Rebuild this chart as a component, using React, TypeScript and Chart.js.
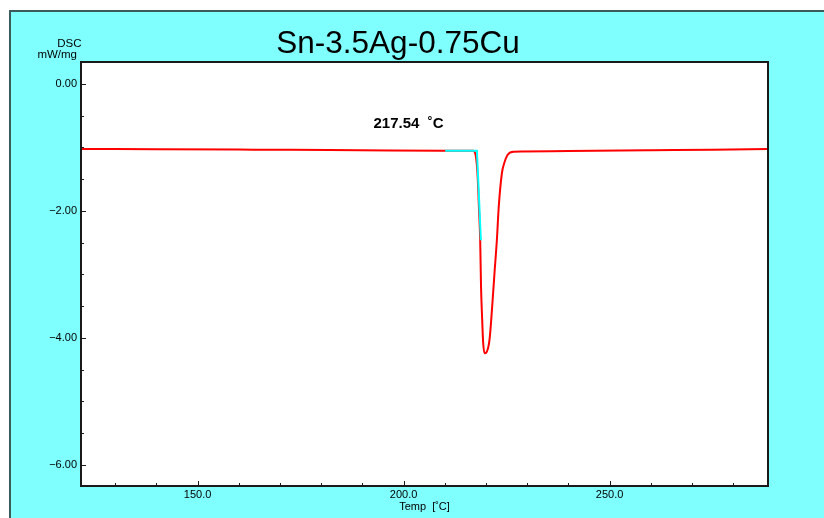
import React, { useEffect, useRef } from 'react';
import { Chart, registerables } from 'chart.js';

Chart.register(...registerables);

// ---- data ----
const tempC = [
  121.7, 140, 160, 167, 182, 197, 210, 216.6, 216.96, 217.55, 217.93, 218.28, 218.59,
  218.8, 219.08, 219.3, 219.63, 220.17, 220.85, 221.5, 222.06, 222.64, 223.1, 223.86,
  224.42, 225.22, 226.67, 228.7, 240, 260, 275, 288.45,
];
const dscMwMg = [
  -1.024, -1.028, -1.033, -1.035, -1.039, -1.047, -1.05, -1.05, -1.052, -1.145, -1.406,
  -1.932, -2.457, -3.2, -3.717, -4.06, -4.241, -4.22, -4.031, -3.507, -2.981, -2.457,
  -1.93, -1.406, -1.249, -1.118, -1.066, -1.063, -1.055, -1.043, -1.035, -1.024,
];
const tangentTemp = [210.1, 217.8, 218.76];
const tangentDsc = [-1.05, -1.05, -2.46];

const xMajorTicks = [150, 200, 250];
const xTickLabels = ['150.0', '200.0', '250.0'];
const xMinorTicks = [130, 140, 160, 170, 180, 190, 210, 220, 230, 240, 260, 270, 280];
const yMajorTicks = [0, -2, -4, -6];
const yTickLabels = ['0.00', '\u22122.00', '\u22124.00', '\u22126.00'];
const yMinorTicks = [-0.5, -1, -1.5, -2.5, -3, -3.5, -4.5, -5, -5.5];

const chartTitle = 'Sn-3.5Ag-0.75Cu';
const onsetLabel = '217.54  \u02DAC';
const yTitleLines = ['DSC', 'mW/mg'];
const xTitle = 'Temp  [\u02DAC]';

const X_MIN = 121.7;
const X_MAX = 288.45;
const Y_MIN = -6.331;
const Y_MAX = 0.346;

const FONT = '"Liberation Sans", Arial, sans-serif';

const framePlugin = {
  id: 'dscFrame',
  beforeDraw(chart: any) {
    const { ctx, width, height, chartArea: a } = chart;
    ctx.save();
    ctx.fillStyle = '#ffffff';
    ctx.fillRect(0, 0, width, height);
    ctx.fillStyle = '#80ffff';
    ctx.fillRect(10, 11, width - 10, height - 11);
    ctx.strokeStyle = '#3c5c5c';
    ctx.lineWidth = 2;
    ctx.beginPath();
    ctx.moveTo(10, height);
    ctx.lineTo(10, 11);
    ctx.lineTo(width, 11);
    ctx.stroke();
    ctx.fillStyle = '#ffffff';
    ctx.fillRect(a.left, a.top, a.right - a.left, a.bottom - a.top);
    ctx.restore();
  },
  afterDraw(chart: any) {
    const { ctx, chartArea: a, scales } = chart;
    const xs = scales.x;
    const ys = scales.y;
    ctx.save();
    ctx.strokeStyle = '#1a1a1a';
    ctx.lineWidth = 1;
    ctx.beginPath();
    yMajorTicks.forEach((v) => {
      const p = Math.round(ys.getPixelForValue(v)) + 0.5;
      ctx.moveTo(a.left, p);
      ctx.lineTo(a.left + 5, p);
    });
    yMinorTicks.forEach((v) => {
      const p = Math.round(ys.getPixelForValue(v)) + 0.5;
      ctx.moveTo(a.left, p);
      ctx.lineTo(a.left + 3, p);
    });
    xMajorTicks.forEach((v) => {
      const p = Math.round(xs.getPixelForValue(v)) + 0.5;
      ctx.moveTo(p, a.bottom);
      ctx.lineTo(p, a.bottom - 5);
    });
    xMinorTicks.forEach((v) => {
      const p = Math.round(xs.getPixelForValue(v)) + 0.5;
      ctx.moveTo(p, a.bottom);
      ctx.lineTo(p, a.bottom - 3);
    });
    ctx.stroke();

    ctx.lineWidth = 2;
    ctx.strokeStyle = '#1a1a1a';
    ctx.strokeRect(a.left, a.top, a.right - a.left, a.bottom - a.top);

    ctx.fillStyle = '#000000';
    ctx.textBaseline = 'alphabetic';
    ctx.textAlign = 'center';
    ctx.font = `31.5px ${FONT}`;
    ctx.fillText(chartTitle, 398, 52.5);

    ctx.font = `bold 15px ${FONT}`;
    ctx.fillText(onsetLabel, 408.5, 127.5);

    ctx.textAlign = 'right';
    ctx.font = `11.5px ${FONT}`;
    ctx.fillText(yTitleLines[0], 81.5, 46.7);
    ctx.fillText(yTitleLines[1], 77, 58.3);
    ctx.restore();
  },
};

export default function App() {
  const canvasRef = useRef<HTMLCanvasElement | null>(null);

  useEffect(() => {
    const canvas = canvasRef.current;
    if (!canvas) return;
    const curve = tempC.map((t, i) => ({ x: t, y: dscMwMg[i] }));
    const tangent = tangentTemp.map((t, i) => ({ x: t, y: tangentDsc[i] }));
    const chart = new Chart(canvas, {
      type: 'line',
      data: {
        datasets: [
          {
            label: 'tangent',
            data: tangent,
            borderColor: '#00ffff',
            borderWidth: 2,
            pointRadius: 0,
            tension: 0,
            order: 0,
          },
          {
            label: 'DSC',
            data: curve,
            borderColor: '#ff0000',
            borderWidth: 2,
            pointRadius: 0,
            cubicInterpolationMode: 'monotone',
            order: 1,
          },
        ],
      },
      options: {
        animation: false,
        responsive: false,
        devicePixelRatio: 1,
        layout: { padding: { top: 62, right: 56, bottom: 0, left: 0 } },
        plugins: {
          legend: { display: false },
          tooltip: { enabled: false },
          title: { display: false },
        },
        scales: {
          x: {
            type: 'linear',
            min: X_MIN,
            max: X_MAX,
            afterBuildTicks: (s: any) => {
              s.ticks = [...xMinorTicks, ...xMajorTicks]
                .sort((p, q) => p - q)
                .map((v) => ({ value: v }));
            },
            afterFit: (s: any) => {
              s.height = 32;
            },
            ticks: {
              autoSkip: false,
              maxRotation: 0,
              minRotation: 0,
              padding: 2,
              color: '#000000',
              font: { family: FONT, size: 11 },
              callback: (v: any) => {
                const i = xMajorTicks.indexOf(Number(v));
                return i >= 0 ? xTickLabels[i] : '';
              },
            },
            grid: { display: false, drawTicks: false },
            border: { display: false },
            title: {
              display: true,
              text: xTitle,
              color: '#000000',
              font: { family: FONT, size: 11 },
              padding: { top: 0, bottom: 4 },
            },
          },
          y: {
            type: 'linear',
            min: Y_MIN,
            max: Y_MAX,
            afterBuildTicks: (s: any) => {
              s.ticks = [...yMajorTicks, ...yMinorTicks]
                .sort((p, q) => p - q)
                .map((v) => ({ value: v }));
            },
            afterFit: (s: any) => {
              s.width = 81;
            },
            ticks: {
              autoSkip: false,
              padding: 4,
              color: '#000000',
              font: { family: FONT, size: 11 },
              callback: (v: any) => {
                const i = yMajorTicks.indexOf(Number(v));
                return i >= 0 ? yTickLabels[i] : '';
              },
            },
            grid: { display: false, drawTicks: false },
            border: { display: false },
          },
        },
      },
      plugins: [framePlugin],
    } as any);
    return () => chart.destroy();
  }, []);

  return (
    <div style={{ position: 'fixed', left: 0, top: 0, width: 824, height: 518 }}>
      <canvas ref={canvasRef} width={824} height={518} style={{ width: 824, height: 518, display: 'block' }} />
    </div>
  );
}
